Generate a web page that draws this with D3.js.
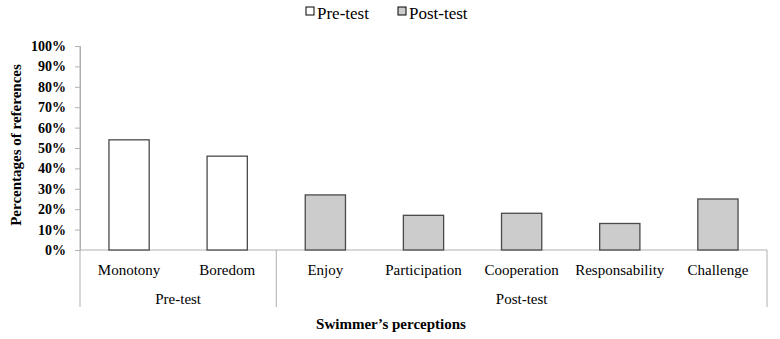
<!DOCTYPE html>
<html>
<head>
<meta charset="utf-8">
<script src="https://cdn.jsdelivr.net/npm/d3@7"></script>
<style>
  body { margin: 0; background: #fff; }
  text { font-family: "Liberation Serif", "Times New Roman", serif; fill: #000; }
</style>
</head>
<body>
<div id="chart"></div>
<script>
// Data ----------------------------------------------------------
const categories = ["Monotony", "Boredom", "Enjoy", "Participation", "Cooperation", "Responsability", "Challenge"];
const values = [0.54, 0.46, 0.27, 0.17, 0.18, 0.13, 0.25];
const phase = ["Pre-test", "Pre-test", "Post-test", "Post-test", "Post-test", "Post-test", "Post-test"];
const groups = ["Pre-test", "Post-test"];
const yTicks = [0, 0.1, 0.2, 0.3, 0.4, 0.5, 0.6, 0.7, 0.8, 0.9, 1.0];

const fills = { "Pre-test": "#ffffff", "Post-test": "#cccccc" };
const axisGrey = "#b0b0b0";

// layout
const W = 780, H = 339;
const plot = { left: 80, right: 767, top: 46, bottom: 250 };

const svg = d3.select("#chart").append("svg")
    .attr("width", W)
    .attr("height", H);

// scales
const x = d3.scaleBand()
    .domain(categories)
    .range([plot.left, plot.right])
    .paddingInner(0.59)
    .paddingOuter(0.295);

const y = d3.scaleLinear()
    .domain([0, 1])
    .range([plot.bottom, plot.top]);

// y axis
const yAxis = svg.append("g")
    .attr("transform", "translate(" + plot.left + ",0)")
    .call(d3.axisLeft(y).tickValues(yTicks).tickSize(5).tickPadding(9)
        .tickFormat(d3.format(".0%")));
yAxis.select(".domain").attr("stroke", axisGrey);
yAxis.selectAll(".tick line").attr("stroke", axisGrey);
yAxis.selectAll(".tick text")
    .style("font-size", "14px")
    .style("font-weight", "bold")
    .style("font-family", "'Liberation Serif', 'Times New Roman', serif");

// x axis baseline
svg.append("line")
    .attr("x1", plot.left).attr("x2", plot.right)
    .attr("y1", plot.bottom).attr("y2", plot.bottom)
    .attr("stroke", axisGrey);

// group separators (left edge, between groups, right edge)
const step = x.step();
const groupBounds = [];
groups.forEach(g => {
    const idx = categories.filter((c, i) => phase[i] === g).map(c => categories.indexOf(c));
    groupBounds.push({ name: g, start: plot.left + d3.min(idx) * step, end: plot.left + (d3.max(idx) + 1) * step });
});
const sepX = [plot.left].concat(groupBounds.map(b => b.end));
svg.selectAll(".sep")
    .data(sepX)
    .enter().append("line")
    .attr("x1", d => d).attr("x2", d => d)
    .attr("y1", d => d === plot.left ? plot.top : plot.bottom)
    .attr("y2", 307)
    .attr("stroke", axisGrey);

// bars
svg.selectAll(".bar")
    .data(categories)
    .enter().append("rect")
    .attr("x", d => x(d))
    .attr("y", (d, i) => y(values[i]))
    .attr("width", x.bandwidth())
    .attr("height", (d, i) => y(0) - y(values[i]))
    .attr("fill", (d, i) => fills[phase[i]])
    .attr("stroke", "#4a4a4a")
    .attr("stroke-width", 1.3);

// category labels
svg.selectAll(".cat")
    .data(categories)
    .enter().append("text")
    .attr("x", d => x(d) + x.bandwidth() / 2)
    .attr("y", 275)
    .attr("text-anchor", "middle")
    .style("font-size", "15px")
    .text(d => d);

// group labels
svg.selectAll(".grp")
    .data(groupBounds)
    .enter().append("text")
    .attr("x", d => (d.start + d.end) / 2)
    .attr("y", 304)
    .attr("text-anchor", "middle")
    .style("font-size", "15px")
    .text(d => d.name);

// axis titles
svg.append("text")
    .attr("x", 391)
    .attr("y", 329)
    .attr("text-anchor", "middle")
    .style("font-size", "15px")
    .style("font-weight", "bold")
    .text("Swimmer\u2019s perceptions");

svg.append("text")
    .attr("transform", "translate(21,145) rotate(-90)")
    .attr("text-anchor", "middle")
    .style("font-size", "15px")
    .style("font-weight", "bold")
    .text("Percentages of references");

// legend
const legend = svg.selectAll(".leg")
    .data(groups)
    .enter().append("g")
    .attr("transform", (d, i) => "translate(" + (306 + i * 92) + ",7)");
legend.append("rect")
    .attr("width", 8).attr("height", 8)
    .attr("fill", d => fills[d])
    .attr("stroke", "#000")
    .attr("stroke-width", 1);
legend.append("text")
    .attr("x", 11)
    .attr("y", 12)
    .style("font-size", "17px")
    .text(d => d);
</script>
</body>
</html>
